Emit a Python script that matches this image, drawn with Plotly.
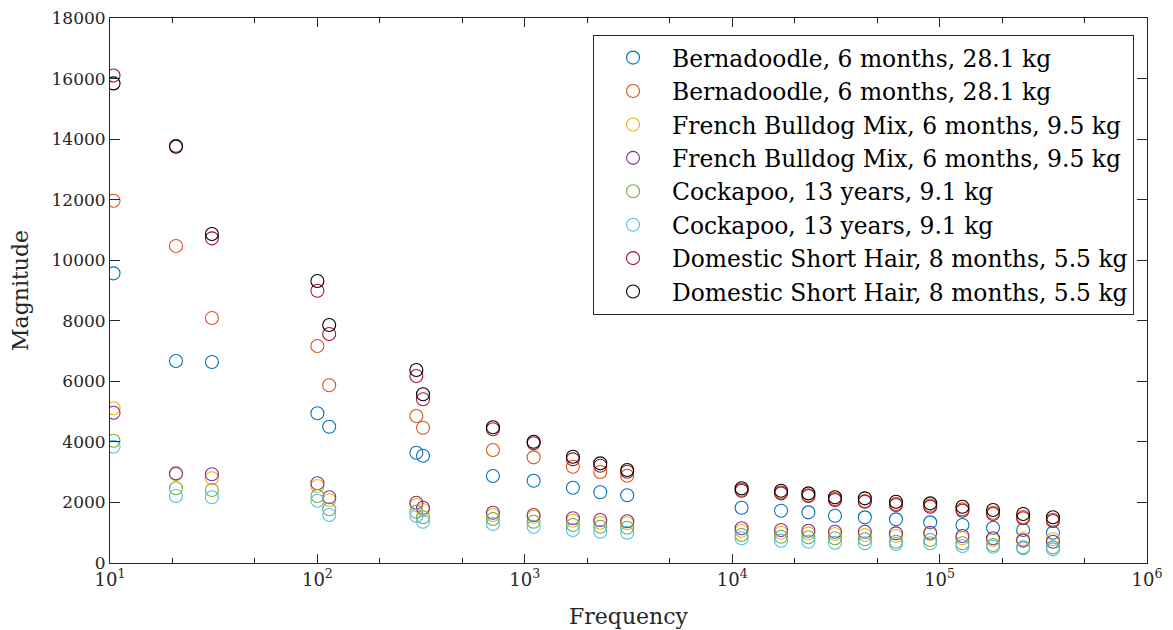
import plotly.graph_objects as go

# Frequencies at which each animal's response magnitude was measured
freq = [10.4, 20.8, 31, 100, 114, 300, 323, 702, 1103, 1706, 2311, 3117,
        11100, 17200, 23300, 31300, 43600, 61600, 90100, 128900, 181000,
        252800, 352000]

bernadoodle_a = [9567, 6671, 6638, 4944, 4501, 3643, 3544, 2873, 2718, 2487, 2335, 2236,
                 1827, 1727, 1673, 1563, 1508, 1442, 1343, 1255, 1166, 1090, 1001]
bernadoodle_b = [11965, 10469, 8091, 7166, 5869, 4855, 4468, 3732, 3490, 3180, 3005, 2883,
                 2420, 2330, 2240, 2110, 2050, 1950, 1900, 1770, 1660, 1520, 1430]
frenchie_a = [5109, 2930, 2797, 2543, 2081, 1915, 1750, 1585, 1529, 1397, 1331, 1311,
              1067, 1001, 980, 958, 925, 892, 958, 815, 760, 790, 782]
frenchie_b = [4964, 2960, 2929, 2632, 2170, 1991, 1826, 1661, 1585, 1476, 1420, 1377,
              1146, 1090, 1067, 1034, 1034, 980, 1001, 892, 815, 740, 704]
cockapoo_a = [4039, 2467, 2411, 2213, 1773, 1694, 1509, 1453, 1364, 1255, 1199, 1166,
              925, 869, 848, 815, 782, 704, 760, 650, 594, 517, 517]
cockapoo_b = [3841, 2213, 2170, 2058, 1585, 1552, 1364, 1288, 1199, 1090, 1034, 1001,
              815, 736, 704, 671, 650, 627, 650, 561, 539, 484, 451]
dsh_a = [16100, 13780, 10723, 8993, 7563, 6176, 5406, 4415, 3953, 3424, 3214, 3015,
         2388, 2300, 2213, 2081, 2025, 1915, 1860, 1727, 1618, 1476, 1387]
dsh_b = [15840, 13749, 10865, 9313, 7860, 6374, 5571, 4482, 4006, 3511, 3292, 3071,
         2467, 2388, 2300, 2170, 2136, 2025, 1970, 1860, 1750, 1618, 1509]

labels = [
    "Bernadoodle, 6 months, 28.1 kg",
    "Bernadoodle, 6 months, 28.1 kg",
    "French Bulldog Mix, 6 months, 9.5 kg",
    "French Bulldog Mix, 6 months, 9.5 kg",
    "Cockapoo, 13 years, 9.1 kg",
    "Cockapoo, 13 years, 9.1 kg",
    "Domestic Short Hair, 8 months, 5.5 kg",
    "Domestic Short Hair, 8 months, 5.5 kg",
]
series = [bernadoodle_a, bernadoodle_b, frenchie_a, frenchie_b,
          cockapoo_a, cockapoo_b, dsh_a, dsh_b]
colors = ["#0072BD", "#D95319", "#EDB120", "#7E2F8E",
          "#77AC30", "#4DBEEE", "#A2142F", "#000000"]

x_tickvals = [10, 100, 1000, 10000, 100000, 1000000]
x_ticktext = ["10<sup>1</sup>", "10<sup>2</sup>", "10<sup>3</sup>",
              "10<sup>4</sup>", "10<sup>5</sup>", "10<sup>6</sup>"]
y_tickvals = [0, 2000, 4000, 6000, 8000, 10000, 12000, 14000, 16000, 18000]
y_ticktext = [str(v) for v in y_tickvals]

serif = "DejaVu Serif"
axis_col = "#262626"

fig = go.Figure()
for i, (vals, name, col) in enumerate(zip(series, labels, colors)):
    fig.add_trace(go.Scatter(
        x=freq, y=vals, mode="markers", name=name,
        legendgroup=f"g{i}",
        marker=dict(symbol="circle-open", size=13, color=col,
                    line=dict(width=1.1, color=col)),
    ))

fig.update_layout(
    width=1173, height=630,
    margin=dict(l=110, r=26, t=18, b=67),
    paper_bgcolor="white", plot_bgcolor="white",
    font=dict(family=serif, color="#262626"),
    showlegend=True,
    legend=dict(
        x=0.9875, y=0.969, xanchor="right", yanchor="top",
        bgcolor="white", bordercolor=axis_col, borderwidth=1,
        font=dict(family=serif, size=23.4, color="#000000"),
        itemwidth=68, tracegroupgap=0,
    ),
    xaxis=dict(
        type="log", range=[1, 6], automargin=False,
        tickvals=x_tickvals, ticktext=x_ticktext,
        tickfont=dict(family=serif, size=18, color="#262626"),
        ticks="inside", ticklen=9, tickwidth=1, tickcolor=axis_col,
        minor=dict(ticks="inside", ticklen=5, tickwidth=1, tickcolor=axis_col,
                   showgrid=False),
        showline=True, linecolor=axis_col, linewidth=1, mirror="ticks",
        showgrid=False, zeroline=False,
        title=dict(text="Frequency", font=dict(family=serif, size=22, color="#262626"),
                   standoff=20),
    ),
    yaxis=dict(
        range=[0, 18000], automargin=False,
        tickvals=y_tickvals, ticktext=y_ticktext,
        tickfont=dict(family=serif, size=17, color="#262626"),
        ticks="inside", ticklen=10, tickwidth=1, tickcolor=axis_col,
        showline=True, linecolor=axis_col, linewidth=1, mirror="ticks",
        showgrid=False, zeroline=False,
        title=dict(text="Magnitude", font=dict(family=serif, size=22, color="#262626"),
                   standoff=16),
    ),
)

fig.write_html("out.html")
